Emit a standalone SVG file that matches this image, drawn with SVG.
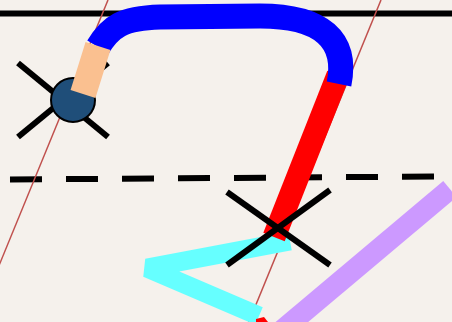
<svg xmlns="http://www.w3.org/2000/svg" width="452" height="322" viewBox="0 0 452 322">
<style>
.thin{stroke:#c0504d;stroke-width:1.5;fill:none}
.blk{stroke:#000;stroke-width:6;fill:none}
.thick{fill:none;stroke-linecap:butt}
</style>
<rect id="background" x="0" y="0" width="452" height="322" fill="#f5f1ec"/>
<g id="guides">
<line class="blk" x1="0" y1="13.5" x2="452" y2="13.5" stroke-width="7"/>
<line class="blk" x1="10" y1="179.5" x2="434" y2="176.5" stroke-width="8" stroke-dasharray="32 24"/>
<line class="thin" x1="108" y1="0" x2="-2" y2="268"/>
<line class="thin" x1="381" y1="0" x2="248" y2="324"/>
</g>
<g id="connectors">
<line id="purple" class="thick" x1="450" y1="189" x2="280" y2="332" stroke="#cc99ff" stroke-width="21"/>
<polyline id="cyan" class="thick" points="290,241 147,268 259,316" stroke="#66ffff" stroke-width="19" stroke-linejoin="bevel"/>
<polygon id="red-stub" points="256,319 264,317 268,322 256,322" fill="#ff0000"/>
<line id="red" class="thick" x1="338" y1="75" x2="274" y2="237" stroke="#ff0000" stroke-width="23"/>
<path id="blue" class="thick" d="M98,47 C110,27 122,18 160,17 L 260,16 C 322,16 348,40 339,84" stroke="#0000ff" stroke-width="25"/>
</g>
<g id="node-circle">
<line class="blk" x1="18" y1="63" x2="108" y2="137"/>
<line class="blk" x1="18" y1="137" x2="108" y2="63"/>
<circle cx="73" cy="100" r="22" fill="#1f4e79" stroke="#000" stroke-width="2"/>
<line class="thick" x1="83" y1="94" x2="98" y2="46" stroke="#fac090" stroke-width="26"/>
</g>
<g id="node-x">
<line class="blk" x1="227" y1="192" x2="330" y2="265"/>
<line class="blk" x1="227" y1="265" x2="330" y2="190"/>
</g>
</svg>
